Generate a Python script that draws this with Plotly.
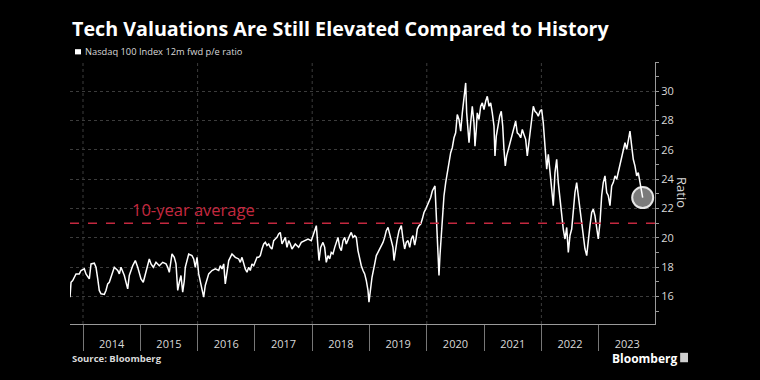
import plotly.graph_objects as go

# Decimal-year positions and Nasdaq 100 12m forward P/E readings
years = [
    2013.773, 2013.791, 2013.820, 2013.878, 2013.935, 2013.965, 2014.023, 2014.052, 2014.110, 2014.140,
    2014.197, 2014.227, 2014.257, 2014.284, 2014.314, 2014.372, 2014.401, 2014.431, 2014.459, 2014.518,
    2014.546, 2014.606, 2014.634, 2014.663, 2014.721, 2014.780, 2014.808, 2014.867, 2014.913, 2014.955,
    2014.983, 2015.012, 2015.052, 2015.099, 2015.129, 2015.157, 2015.187, 2015.227, 2015.274, 2015.332,
    2015.391, 2015.449, 2015.478, 2015.506, 2015.553, 2015.593, 2015.623, 2015.653, 2015.681, 2015.710,
    2015.740, 2015.768, 2015.785, 2015.845, 2015.902, 2015.932, 2015.960, 2015.990, 2016.019, 2016.047,
    2016.077, 2016.106, 2016.134, 2016.164, 2016.194, 2016.251, 2016.309, 2016.368, 2016.396, 2016.426,
    2016.456, 2016.483, 2016.513, 2016.543, 2016.600, 2016.658, 2016.717, 2016.745, 2016.775, 2016.805,
    2016.832, 2016.862, 2016.892, 2016.920, 2016.949, 2016.979, 2017.007, 2017.037, 2017.066, 2017.094,
    2017.124, 2017.154, 2017.182, 2017.211, 2017.241, 2017.269, 2017.298, 2017.328, 2017.356, 2017.386,
    2017.415, 2017.443, 2017.473, 2017.503, 2017.531, 2017.560, 2017.590, 2017.618, 2017.647, 2017.705,
    2017.764, 2017.810, 2017.869, 2017.927, 2017.984, 2018.014, 2018.044, 2018.072, 2018.101, 2018.119,
    2018.148, 2018.188, 2018.218, 2018.246, 2018.276, 2018.305, 2018.333, 2018.363, 2018.393, 2018.421,
    2018.450, 2018.480, 2018.508, 2018.538, 2018.567, 2018.595, 2018.625, 2018.654, 2018.682, 2018.712,
    2018.742, 2018.770, 2018.799, 2018.829, 2018.857, 2018.887, 2018.916, 2018.944, 2018.974, 2018.991,
    2019.021, 2019.044, 2019.091, 2019.119, 2019.148, 2019.178, 2019.206, 2019.236, 2019.265, 2019.293,
    2019.323, 2019.353, 2019.380, 2019.410, 2019.428, 2019.450, 2019.480, 2019.515, 2019.555, 2019.585,
    2019.614, 2019.642, 2019.672, 2019.702, 2019.729, 2019.759, 2019.789, 2019.812, 2019.834, 2019.864,
    2019.894, 2019.922, 2019.951, 2019.981, 2020.009, 2020.038, 2020.068, 2020.096, 2020.126, 2020.143,
    2020.161, 2020.183, 2020.201, 2020.213, 2020.230, 2020.253, 2020.271, 2020.300, 2020.330, 2020.358,
    2020.387, 2020.417, 2020.445, 2020.475, 2020.504, 2020.532, 2020.562, 2020.592, 2020.620, 2020.649,
    2020.679, 2020.696, 2020.719, 2020.737, 2020.766, 2020.794, 2020.824, 2020.841, 2020.864, 2020.881,
    2020.911, 2020.941, 2020.969, 2020.998, 2021.028, 2021.056, 2021.086, 2021.115, 2021.143, 2021.173,
    2021.190, 2021.213, 2021.243, 2021.272, 2021.300, 2021.325, 2021.347, 2021.370, 2021.394, 2021.423,
    2021.452, 2021.492, 2021.522, 2021.551, 2021.579, 2021.609, 2021.639, 2021.667, 2021.696, 2021.726,
    2021.754, 2021.784, 2021.813, 2021.831, 2021.859, 2021.888, 2021.918, 2021.946, 2021.976, 2022.005,
    2022.033, 2022.063, 2022.093, 2022.121, 2022.150, 2022.180, 2022.208, 2022.237, 2022.267, 2022.295,
    2022.325, 2022.354, 2022.382, 2022.412, 2022.442, 2022.470, 2022.499, 2022.529, 2022.557, 2022.586,
    2022.616, 2022.644, 2022.674, 2022.703, 2022.731, 2022.761, 2022.791, 2022.819, 2022.848, 2022.878,
    2022.906, 2022.935, 2022.965, 2022.993, 2023.023, 2023.052, 2023.080, 2023.110, 2023.140, 2023.168,
    2023.197, 2023.227, 2023.255, 2023.285, 2023.314, 2023.342, 2023.372, 2023.401, 2023.429, 2023.459,
    2023.489, 2023.517, 2023.546, 2023.576, 2023.604, 2023.633, 2023.663, 2023.691, 2023.721, 2023.738,
    2023.768,
]

pe_ratio = [
    15.95, 16.97, 17.09, 17.54, 17.54, 17.77, 17.88, 17.54, 17.20, 18.22,
    18.27, 17.99, 17.20, 16.41, 16.18, 16.14, 16.41, 16.86, 16.97, 17.77,
    17.99, 17.77, 17.54, 17.99, 17.43, 16.52, 17.43, 18.10, 18.45, 17.99,
    17.54, 17.20, 16.97, 17.77, 18.22, 18.56, 18.22, 17.99, 18.33, 18.10,
    18.33, 18.22, 17.99, 17.65, 18.90, 18.67, 18.22, 16.41, 16.97, 17.43,
    16.29, 17.09, 17.99, 18.90, 18.79, 18.56, 17.99, 18.67, 17.54, 16.97,
    16.41, 15.95, 16.75, 17.09, 17.54, 17.77, 17.88, 17.77, 18.10, 17.88,
    18.22, 16.86, 17.65, 18.45, 18.90, 18.67, 18.56, 18.33, 18.67, 18.22,
    17.88, 17.65, 17.99, 17.77, 18.22, 18.10, 18.33, 18.67, 18.67, 18.79,
    19.24, 19.58, 19.69, 19.47, 19.58, 19.35, 19.24, 19.81, 19.92, 20.03,
    20.26, 20.37, 19.58, 19.81, 20.03, 19.35, 19.81, 19.58, 19.24, 19.58,
    19.35, 19.69, 19.81, 19.92, 19.81, 20.15, 20.49, 20.83, 19.35, 18.45,
    19.35, 19.69, 19.35, 18.33, 18.79, 18.56, 19.01, 18.90, 19.35, 19.69,
    20.03, 19.35, 19.13, 19.81, 20.03, 19.58, 19.92, 20.15, 20.37, 20.03,
    20.15, 20.03, 19.13, 18.45, 18.10, 17.77, 17.54, 17.09, 16.41, 15.61,
    16.86, 17.31, 18.22, 18.79, 19.01, 19.24, 19.47, 19.69, 20.03, 20.49,
    20.71, 20.26, 19.81, 19.35, 18.45, 19.13, 19.81, 20.49, 20.83, 19.92,
    19.24, 19.69, 19.81, 19.35, 19.92, 20.15, 19.50, 19.95, 20.60, 20.83,
    20.94, 21.28, 21.73, 21.96, 22.19, 22.41, 22.75, 23.20, 23.43, 23.54,
    21.96, 20.37, 18.79, 17.43, 18.79, 20.15, 21.51, 22.87, 23.77, 24.45,
    25.36, 25.81, 26.15, 26.83, 27.17, 28.42, 28.08, 27.28, 28.53, 29.44,
    30.57, 28.53, 27.17, 26.49, 27.85, 28.98, 27.85, 26.26, 27.40, 28.53,
    28.08, 28.98, 29.21, 28.76, 29.32, 29.66, 28.98, 29.21, 28.53, 27.62,
    25.59, 26.94, 27.62, 28.30, 28.64, 27.62, 26.04, 24.91, 25.59, 26.04,
    26.49, 27.17, 27.51, 27.96, 27.17, 27.06, 26.83, 27.40, 27.06, 26.72,
    25.59, 26.49, 27.40, 28.30, 28.98, 28.64, 28.53, 28.30, 28.64, 28.76,
    27.85, 26.26, 24.68, 25.70, 24.45, 22.87, 22.19, 24.45, 25.36, 23.77,
    22.64, 21.51, 20.60, 19.92, 20.71, 19.01, 20.15, 20.60, 21.96, 23.09,
    23.77, 22.87, 21.73, 20.83, 19.92, 19.24, 18.79, 19.92, 20.83, 21.73,
    21.96, 21.51, 20.60, 19.92, 21.05, 22.87, 23.77, 24.23, 23.09, 22.87,
    22.19, 23.54, 23.77, 24.23, 24.00, 24.45, 25.13, 25.59, 25.93, 26.49,
    26.04, 26.72, 27.28, 26.26, 25.36, 24.91, 24.23, 24.45, 23.77, 23.32,
    22.75,
]

ten_year_average = 21.0
year_labels = ["2014", "2015", "2016", "2017", "2018", "2019", "2020", "2021", "2022", "2023"]
year_starts = [2014, 2015, 2016, 2017, 2018, 2019, 2020, 2021, 2022, 2023]
label_positions = [y + 0.5 for y in year_starts]
grid_years = [2014, 2016, 2018, 2020, 2022]
y_major = [16, 18, 20, 22, 24, 26, 28, 30, 32]
y_major_text = ["16", "18", "20", "22", "24", "26", "28", "30", ""]
y_minor = [15, 17, 19, 21, 23, 25, 27, 29, 31]

assert len(years) == len(pe_ratio)

FONT = "Open Sans"
GRID = "#3c3c3c"
AXIS = "#9a9a9a"
TEXT = "#d9d9d9"
RED = "#c4283f"

fig = go.Figure()

# Highlight circle on the latest value (drawn beneath the line)
fig.add_trace(go.Scatter(
    x=[years[-1]], y=[pe_ratio[-1]], mode="markers",
    marker=dict(size=21, color="#7b7b7b", line=dict(color="#e6e6e6", width=2)),
    hoverinfo="skip", showlegend=False,
))

fig.add_trace(go.Scatter(
    x=years, y=pe_ratio, mode="lines",
    line=dict(color="#ffffff", width=1.5),
    name="Nasdaq 100 Index 12m fwd p/e ratio", showlegend=False,
))

shapes = []
for gy in grid_years:
    shapes.append(dict(type="line", xref="x", yref="paper", x0=gy, x1=gy, y0=0, y1=1,
                       line=dict(color=GRID, width=1, dash="dot"), layer="below"))
shapes.append(dict(type="line", xref="paper", yref="y", x0=0, x1=1,
                   y0=ten_year_average, y1=ten_year_average,
                   line=dict(color=RED, width=1.6, dash="dash"), layer="above"))
# legend swatch
shapes.append(dict(type="rect", xref="paper", yref="paper", x0=0.0085, x1=0.0188,
                   y0=1.029, y1=1.049, fillcolor="#ffffff", line=dict(width=0)))
# Bloomberg icon
shapes.append(dict(type="rect", xref="paper", yref="paper", x0=1.043, x1=1.0564,
                   y0=-0.146, y1=-0.110, fillcolor="#cfcfcf", line=dict(width=0)))

annotations = [
    dict(text="<b>Tech Valuations Are Still Elevated Compared to History</b>",
         xref="paper", yref="paper", x=0, y=1.1285, xanchor="left", yanchor="middle",
         showarrow=False, font=dict(family=FONT, size=19.7, color="#ffffff")),
    dict(text="Nasdaq 100 Index 12m fwd p/e ratio",
         xref="paper", yref="paper", x=0.0222, y=1.039, xanchor="left", yanchor="middle",
         showarrow=False, font=dict(family=FONT, size=9.3, color=TEXT)),
    dict(text="10-year average", xref="x", yref="y", x=2014.82, y=ten_year_average,
         xanchor="left", yanchor="bottom", yshift=0, showarrow=False,
         font=dict(family=FONT, size=16.5, color=RED)),
    dict(text="Ratio", xref="paper", yref="paper", x=1.046, y=0.5, textangle=90,
         xanchor="center", yanchor="middle", showarrow=False,
         font=dict(family=FONT, size=13, color=TEXT)),
    dict(text="<b>Source: Bloomberg</b>", xref="paper", yref="paper", x=0.0, y=-0.133,
         xanchor="left", yanchor="middle", showarrow=False,
         font=dict(family=FONT, size=9.5, color=TEXT)),
    dict(text="<b>Bloomberg</b>", xref="paper", yref="paper", x=0.9235, y=-0.131,
         xanchor="left", yanchor="middle", showarrow=False,
         font=dict(family=FONT, size=12, color="#ffffff")),
]

fig.update_layout(
    width=760, height=380,
    margin=dict(l=70, r=105, t=62, b=56),
    paper_bgcolor="#000000", plot_bgcolor="#000000",
    font=dict(family=FONT, color=TEXT),
    shapes=shapes, annotations=annotations,
    showlegend=False,
    xaxis=dict(
        range=[2013.773, 2023.983], tickmode="array",
        tickvals=label_positions, ticktext=year_labels,
        ticks="", showgrid=False, zeroline=False,
        showline=True, linecolor=AXIS, linewidth=1,
        tickfont=dict(family=FONT, size=11, color=TEXT),
        ticklabelstandoff=10,
        minor=dict(tickmode="array", tickvals=year_starts, ticks="outside",
                   ticklen=26, tickcolor="#777777", tickwidth=1, showgrid=False),
    ),
    yaxis=dict(
        range=[14.12, 32], side="right", tickmode="array",
        tickvals=y_major, ticktext=y_major_text,
        ticks="outside", ticklen=3, tickcolor=AXIS,
        showgrid=True, gridcolor=GRID, griddash="dot", gridwidth=1,
        zeroline=False, showline=True, linecolor=AXIS, linewidth=1,
        tickfont=dict(family=FONT, size=11, color=TEXT),
        minor=dict(tickmode="array", tickvals=y_minor, ticks="outside",
                   ticklen=3, tickcolor=AXIS, showgrid=False),
    ),
)

fig.write_html(
    "out.html",
    config={"displayModeBar": False},
    post_script="document.body.style.margin='0';document.body.style.background='#000';",
)
